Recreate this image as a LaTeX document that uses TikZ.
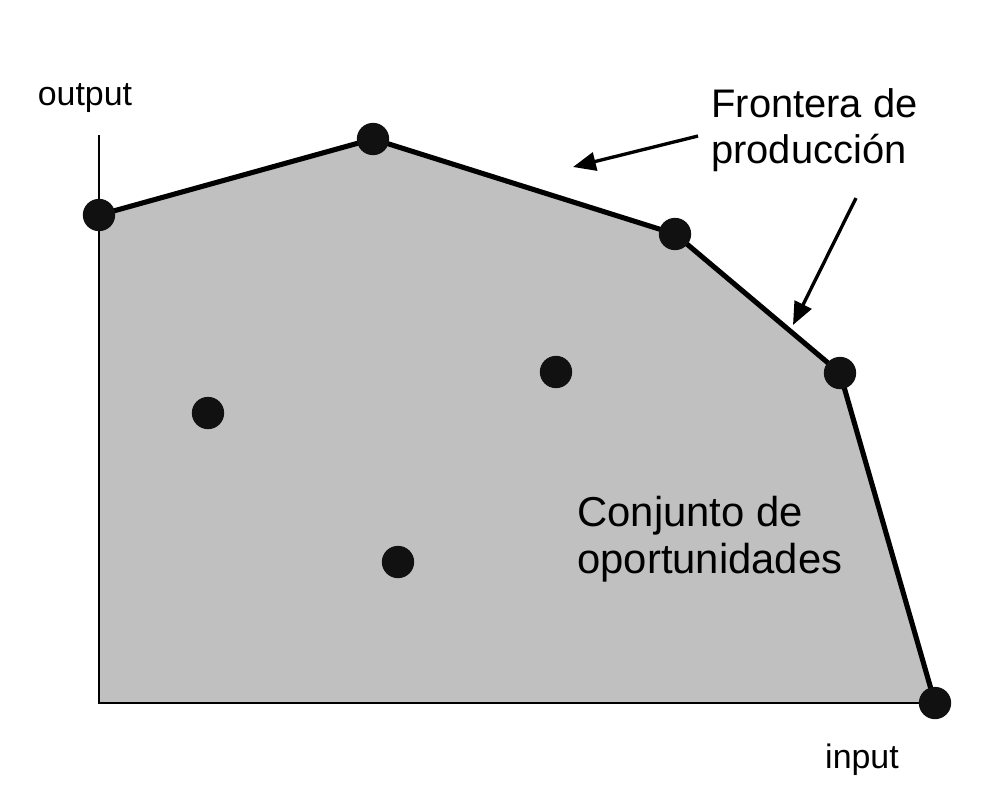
\documentclass[tikz,border=0pt]{standalone}
\usepackage{fontspec}
\setmainfont{Liberation Sans}
\usetikzlibrary{arrows.meta,positioning}
\definecolor{setgray}{HTML}{C0C0C0}
\definecolor{dotblack}{HTML}{111111}
\tikzset{
  dmu/.style={fill=dotblack},
  frontier/.style={line width=2.9pt,line join=round},
  axisline/.style={line width=1.3pt},
  pointer/.style={-{Triangle[length=13pt,width=10.5pt]},line width=1.9pt},
  biglbl/.style={font=\fontsize{22.7}{26}\selectfont,align=left,inner sep=0pt},
  axlbl/.style={font=\fontsize{19.3}{23}\selectfont,inner sep=0pt}
}

\begin{document}
\begin{tikzpicture}[x=0.02cm,y=-0.02cm]
\useasboundingbox (0,0) rectangle (988,796);
% axes and frontier units
\coordinate (O) at (99,703);
\coordinate (Ytop) at (99,135);
\coordinate (F1) at (99,215);
\coordinate (F2) at (373,139);
\coordinate (F3) at (675,234);
\coordinate (F4) at (840,373);
\coordinate (F5) at (935,703);
% inefficient units
\coordinate (I1) at (208,413);
\coordinate (I2) at (556,372);
\coordinate (I3) at (398,562);
% opportunity set
\fill[setgray] (F1)--(F2)--(F3)--(F4)--(F5)--(O)--cycle;
\draw[axisline] (Ytop)--(O)--(F5);
\draw[frontier] (F1)--(F2)--(F3)--(F4)--(F5);
\foreach \p in {F1,F2,F3,F4,F5,I1,I2,I3}
  \fill[dmu] (\p) circle[radius=9.2pt];
% labels
\node[axlbl,anchor=base] (outlbl) at (85,105) {output};
\node[axlbl,anchor=base] (inlbl) at (862,768) {input};
\node[biglbl,anchor=west] (frontlbl) at (711,130) {Frontera de\\producción};
\node[biglbl,font=\fontsize{23.8}{26.5}\selectfont,anchor=west] (setlbl) at (577,539) {Conjunto de\\oportunidades};
% pointers to the frontier
\coordinate (A1s) at (698,136); \coordinate (A1e) at (573,167);
\coordinate (A2s) at (856,198); \coordinate (A2e) at (793,325);
\draw[pointer] (A1s)--(A1e);
\draw[pointer] (A2s)--(A2e);
\end{tikzpicture}
\end{document}
